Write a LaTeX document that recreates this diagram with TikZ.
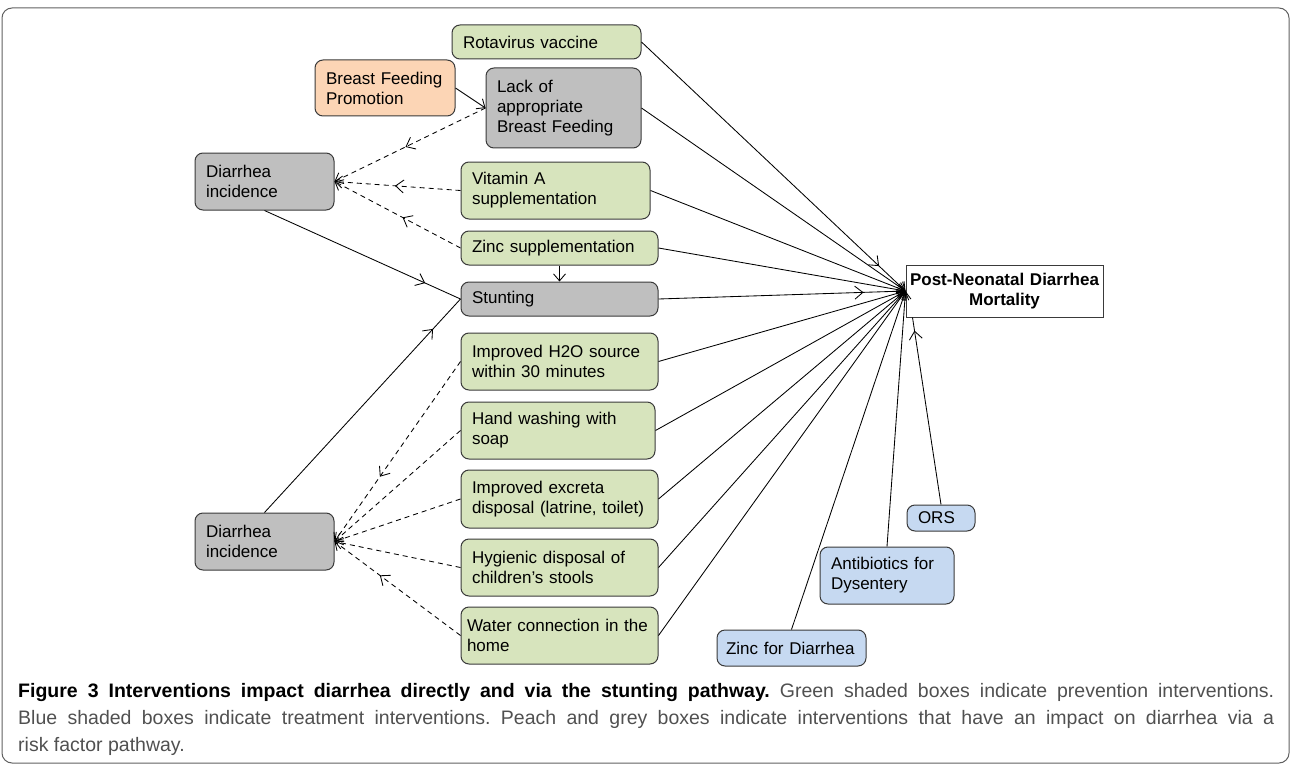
\documentclass[tikz,border=0pt]{standalone}
\usepackage{fontspec}
\setmainfont{Liberation Sans}
\usetikzlibrary{arrows.meta,decorations.markings}

\definecolor{boxgreen}{HTML}{D7E4BD}
\definecolor{boxpeach}{HTML}{FCD5B5}
\definecolor{boxgrey}{HTML}{BFBFBF}
\definecolor{boxblue}{HTML}{C6D9F1}
\definecolor{boxline}{HTML}{3A3A3A}
\definecolor{capgrey}{HTML}{505050}

\tikzset{
    box/.style = {draw=boxline, line width=1pt, rounded corners=8pt, inner xsep=11pt, inner ysep=2pt,
                  align=left, font=\fontsize{17}{20}\selectfont},
    prevent/.style = {box, fill=boxgreen},
    riskbox/.style = {box, fill=boxgrey},
    promote/.style = {box, fill=boxpeach},
    treat/.style = {box, fill=boxblue},
    link/.style = {line width=0.85pt, -{Straight Barb[length=7pt,width=12pt]}},
    dashlink/.style = {link, dash pattern=on 5pt off 4pt},
    plainlink/.style = {line width=0.85pt},
    midarrow/.style = {postaction={decorate},
        decoration={markings, mark=at position #1 with {\arrow{Straight Barb[length=8pt,width=13pt]}}}}
}

\begin{document}
\begin{tikzpicture}[x=1pt, y=-1pt]
    \useasboundingbox (0,0) rectangle (1290,765);
    \draw [color=boxline!80, line width=1pt, rounded corners=10pt] (2,8) rectangle (1289,763);

    % boxes
    \node [prevent, text width=167pt, minimum height=34pt] (rota) at (546.5,42) {Rotavirus vaccine};
    \node [promote, text width=118pt, minimum height=56pt] (bfp) at (385,88) {Breast Feeding\\Promotion};
    \node [riskbox, text width=133pt, minimum height=80pt] (lack) at (563.5,108) {Lack of\\appropriate\\Breast Feeding};
    \node [riskbox, text width=117pt, minimum height=57pt] (diatop) at (264.5,181.5) {Diarrhea\\incidence};
    \node [prevent, text width=167pt, minimum height=57pt] (vita) at (555.5,190.5) {Vitamin A\\supplementation};
    \node [prevent, text width=175pt, minimum height=34pt] (zincsup) at (559.5,248) {Zinc supplementation};
    \node [riskbox, text width=175pt, minimum height=34pt] (stunt) at (559.5,299) {Stunting};
    \node [prevent, text width=175pt, minimum height=57pt] (water) at (559.5,361.5) {Improved H2O source\\within 30 minutes};
    \node [prevent, text width=172pt, minimum height=57pt] (hand) at (558,430.5) {Hand washing with\\soap};
    \node [prevent, text width=175pt, minimum height=58pt] (excreta) at (559.5,499) {Improved excreta\\disposal (latrine, toilet)};
    \node [prevent, text width=175pt, minimum height=57pt] (stool) at (559.5,567.5) {Hygienic disposal of\\children’s stools};
    \node [prevent, text width=185pt, inner xsep=6pt, minimum height=57pt] (pipe) at (559.5,635.5) {Water connection in the\\home};
    \node [riskbox, text width=117pt, minimum height=57pt] (diabot) at (264.5,541.5) {Diarrhea\\incidence};
    \node [draw=boxline, line width=1pt, fill=white, text width=191pt, inner xsep=3pt, align=center,
           minimum height=52pt, font=\bfseries\fontsize{17}{20}\selectfont] (death) at (1004.5,291) {Post-Neonatal Diarrhea\\Mortality};
    \node [treat, text width=46pt, minimum height=26pt] (ors) at (941,518) {ORS};
    \node [treat, text width=112pt, minimum height=57pt] (abx) at (887,575.5) {Antibiotics for\\Dysentery};
    \node [treat, text width=131pt, inner xsep=9pt, minimum height=36pt] (zincdia) at (791.5,648) {Zinc for Diarrhea};

    % direct paths to mortality
    \draw [link, midarrow=0.9] (rota.east) -- (death.west);
    \draw [link, midarrow=0.83] (stunt.east) -- (death.west);
    \foreach \n in {lack,vita,zincsup,water,hand,excreta,stool,pipe}
        \draw [link] (\n.east) -- (death.west);
    \draw [link] (abx.north) -- (death.west);
    \draw [link] (zincdia.north) -- (death.west);
    \draw [plainlink, midarrow=0.93] (ors.north) -- ([xshift=7pt]death.south west);

    % risk factor paths
    \draw [link] (bfp.east) -- (lack.west);
    \draw [dashlink, midarrow=0.53] (lack.west) -- (diatop.east);
    \draw [dashlink, midarrow=0.52] (vita.west) -- (diatop.east);
    \draw [dashlink, midarrow=0.46] (zincsup.west) -- (diatop.east);
    \draw [link] (zincsup.south) -- (stunt.north);
    \draw [plainlink, midarrow=0.82] (diatop.south) -- (stunt.west);
    \draw [plainlink, midarrow=0.86] (diabot.north) -- (stunt.west);
    \draw [dashlink, midarrow=0.64] (water.west) -- (diabot.east);
    \foreach \n in {hand,excreta,stool}
        \draw [dashlink] (\n.west) -- (diabot.east);
    \draw [dashlink, midarrow=0.64] (pipe.west) -- (diabot.east);

    % caption
    \node [anchor=base west, text width=1256pt, align=justify, inner sep=0pt, text=capgrey,
           font=\fontsize{19.5}{27}\selectfont\frenchspacing] (caption) at (18,697)
        {\textcolor{black}{\bfseries Figure 3 Interventions impact diarrhea directly and via the stunting pathway.}
         Green shaded boxes indicate prevention interventions.\linebreak
         Blue shaded boxes indicate treatment interventions. Peach and grey boxes indicate interventions that have an impact on diarrhea via a\linebreak
         risk factor pathway.};
\end{tikzpicture}
\end{document}
